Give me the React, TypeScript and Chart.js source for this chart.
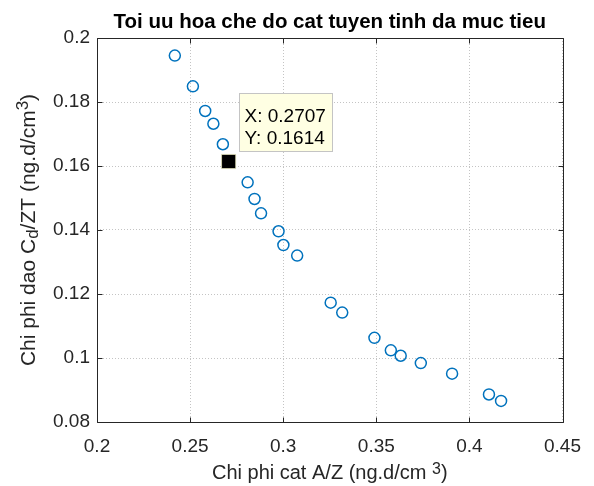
import React, { useEffect, useRef } from 'react';
import { Chart, registerables } from 'chart.js';

Chart.register(...registerables);

// ---- Data ----
const xValues = [0.2418, 0.2515, 0.2581, 0.2625, 0.2676, 0.2707, 0.2809, 0.2846, 0.2881, 0.2975, 0.3001, 0.3075, 0.3255, 0.3317, 0.349, 0.3578, 0.3631, 0.3739, 0.3907, 0.4105, 0.417];
const yValues = [0.1945, 0.1849, 0.1772, 0.1732, 0.1668, 0.1614, 0.1549, 0.1497, 0.1452, 0.1396, 0.1353, 0.132, 0.1173, 0.1142, 0.1063, 0.1024, 0.1007, 0.0984, 0.0951, 0.0886, 0.0866];
const tipX = 0.2707;
const tipY = 0.1614;
const xTicks = [0.2, 0.25, 0.3, 0.35, 0.4, 0.45];
const yTicks = [0.08, 0.1, 0.12, 0.14, 0.16, 0.18, 0.2];
const titleText = 'Toi uu hoa che do cat tuyen tinh da muc tieu';
type Seg = { t: string; m: 'n' | 'sub' | 'sup' };
const xLabelSegs: Seg[] = [
  { t: 'Chi phi cat A/Z (ng.d/cm ', m: 'n' },
  { t: '3', m: 'sup' },
  { t: ')', m: 'n' },
];
const yLabelSegs: Seg[] = [
  { t: 'Chi phi dao C', m: 'n' },
  { t: 'd', m: 'sub' },
  { t: '/ZT (ng.d/cm', m: 'n' },
  { t: '3', m: 'sup' },
  { t: ')', m: 'n' },
];

const FONT = "'Liberation Sans', Arial, Helvetica, sans-serif";
const fmt = (v: number) => String(parseFloat(v.toFixed(2)));

function drawSegs(ctx: CanvasRenderingContext2D, segs: Seg[], cx: number, baseY: number, size: number, supShift: number) {
  const setFont = (m: string) => {
    ctx.font = m === 'n' ? `${size}px ${FONT}` : `${size - 4}px ${FONT}`;
  };
  let total = 0;
  const widths = segs.map((s) => {
    setFont(s.m);
    const w = ctx.measureText(s.t).width;
    total += w;
    return w;
  });
  let x = cx - total / 2;
  ctx.textAlign = 'left';
  ctx.textBaseline = 'alphabetic';
  segs.forEach((s, i) => {
    setFont(s.m);
    const dy = s.m === 'sub' ? 3 : s.m === 'sup' ? -supShift : 0;
    ctx.fillText(s.t, x, baseY + dy);
    x += widths[i];
  });
}

const overlayPlugin = {
  id: 'overlay',
  afterDatasetsDraw(chart: any) {
    const ctx: CanvasRenderingContext2D = chart.ctx;
    const { left, right, top, bottom } = chart.chartArea;
    const xs = chart.scales.x;
    const ys = chart.scales.y;
    ctx.save();
    // box
    ctx.strokeStyle = '#262626';
    ctx.lineWidth = 1;
    const L = Math.round(left) + 0.5;
    const R = Math.round(right) + 0.5;
    const T = Math.round(top) + 0.5;
    const B = Math.round(bottom) + 0.5;
    ctx.beginPath();
    ctx.moveTo(L, T);
    ctx.lineTo(R, T);
    ctx.lineTo(R, B);
    ctx.lineTo(L, B);
    ctx.closePath();
    ctx.stroke();
    // inward ticks
    const tl = 5;
    ctx.beginPath();
    xTicks.forEach((v) => {
      const p = Math.round(xs.getPixelForValue(v)) + 0.5;
      ctx.moveTo(p, B);
      ctx.lineTo(p, B - tl);
      ctx.moveTo(p, T);
      ctx.lineTo(p, T + tl);
    });
    yTicks.forEach((v) => {
      const p = Math.round(ys.getPixelForValue(v)) + 0.5;
      ctx.moveTo(L, p);
      ctx.lineTo(L + tl, p);
      ctx.moveTo(R, p);
      ctx.lineTo(R - tl, p);
    });
    ctx.stroke();

    // data tip
    const px = xs.getPixelForValue(tipX);
    const py = ys.getPixelForValue(tipY);
    const bx = Math.round(px + 10) + 0.5;
    const by = Math.round(py - 69) + 0.5;
    const bw = 93;
    const bh = 58;
    ctx.fillStyle = '#FFFFE3';
    ctx.fillRect(bx, by, bw, bh);
    ctx.strokeStyle = '#C4C4C4';
    ctx.strokeRect(bx, by, bw, bh);
    ctx.fillStyle = '#000';
    ctx.font = `19px ${FONT}`;
    ctx.textAlign = 'left';
    ctx.textBaseline = 'alphabetic';
    ctx.fillText('X: ' + tipX.toFixed(4), bx + 5, by + 28);
    ctx.fillText('Y: ' + tipY.toFixed(4), bx + 5, by + 50);

    // title
    ctx.fillStyle = '#000';
    ctx.font = `bold 20.5px ${FONT}`;
    ctx.textAlign = 'center';
    ctx.fillText(titleText, (left + right) / 2, 28);

    // axis labels
    ctx.fillStyle = '#262626';
    drawSegs(ctx, xLabelSegs, (left + right) / 2, 479, 20, 5);
    ctx.translate(35, (top + bottom) / 2);
    ctx.rotate(-Math.PI / 2);
    drawSegs(ctx, yLabelSegs, 0, 0, 21, 7);
    ctx.restore();
  },
};

export default function App() {
  const ref = useRef<HTMLCanvasElement | null>(null);
  useEffect(() => {
    document.body.style.margin = '0';
    const canvas = ref.current;
    if (!canvas) return;
    const mainData = xValues.map((x, i) => ({ x, y: yValues[i] }));
    const chart = new Chart(canvas, {
      type: 'scatter',
      data: {
        datasets: [
          {
            label: 'tip',
            data: [{ x: tipX, y: tipY }],
            pointStyle: 'rect',
            pointRadius: 10,
            pointBackgroundColor: '#000000',
            pointBorderColor: 'rgba(235,235,190,0.7)',
            pointBorderWidth: 1,
            order: 1,
          },
          {
            label: 'pareto',
            data: mainData,
            pointStyle: 'circle',
            pointRadius: 5.5,
            pointBorderColor: '#0072BD',
            pointBackgroundColor: 'rgba(0,0,0,0)',
            pointBorderWidth: 1.5,
            showLine: false,
            order: 2,
          },
        ],
      },
      options: {
        animation: false,
        responsive: false,
        devicePixelRatio: 1,
        layout: { padding: { top: 38, right: 25, left: 0, bottom: 0 } },
        plugins: { legend: { display: false }, tooltip: { enabled: false }, title: { display: false } },
        scales: {
          x: {
            type: 'linear',
            position: 'bottom',
            min: 0.2,
            max: 0.45,
            afterBuildTicks: (s: any) => {
              s.ticks = xTicks.map((v) => ({ value: v }));
            },
            afterFit: (s: any) => {
              s.height = 64;
            },
            grid: { color: '#c4c4c4', drawTicks: false, lineWidth: 1 },
            border: { display: false, dash: [1, 2] },
            ticks: {
              padding: 13,
              color: '#262626',
              font: { family: FONT, size: 19 },
              maxRotation: 0,
              autoSkip: false,
              callback: (v: any) => fmt(Number(v)),
            },
          },
          y: {
            type: 'linear',
            min: 0.08,
            max: 0.2,
            afterBuildTicks: (s: any) => {
              s.ticks = yTicks.map((v) => ({ value: v }));
            },
            afterFit: (s: any) => {
              s.width = 97;
            },
            grid: { color: '#c4c4c4', drawTicks: false, lineWidth: 1 },
            border: { display: false, dash: [1, 2] },
            ticks: {
              padding: 7,
              color: '#262626',
              font: { family: FONT, size: 19 },
              autoSkip: false,
              callback: (v: any) => fmt(Number(v)),
            },
          },
        },
      },
      plugins: [overlayPlugin],
    });
    return () => chart.destroy();
  }, []);
  return (
    <div style={{ width: 594, height: 486, background: '#fff' }}>
      <canvas ref={ref} width={594} height={486} style={{ display: 'block' }} />
    </div>
  );
}
